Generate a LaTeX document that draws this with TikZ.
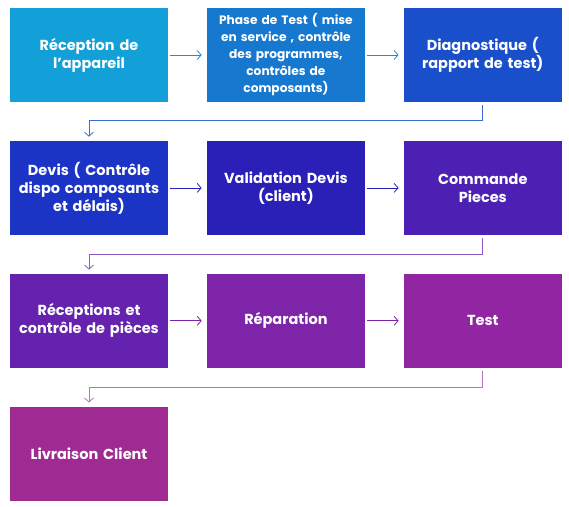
\documentclass[tikz,border=0pt]{standalone}
\usepackage{fontspec}
\setmainfont{Poppins}
\usepackage{tikz}
\usetikzlibrary{arrows.meta,positioning}

\definecolor{cA}{HTML}{139FD8}
\definecolor{cB}{HTML}{1778D0}
\definecolor{cC}{HTML}{1A4FCB}
\definecolor{cD}{HTML}{1B34C6}
\definecolor{cE}{HTML}{2A20B8}
\definecolor{cF}{HTML}{4C20B2}
\definecolor{cG}{HTML}{6522AE}
\definecolor{cH}{HTML}{7E24A8}
\definecolor{cI}{HTML}{9226A2}
\definecolor{cJ}{HTML}{9E2A92}

\tikzset{
  etape/.style={fill=#1,text=white,minimum width=158pt,minimum height=94pt,
    text width=156pt,align=center,inner sep=0pt,
    font=\fontsize{14.5}{18}\selectfont\bfseries},
  petit/.style={font=\fontsize{12.2}{17}\selectfont\bfseries},
  fleche/.style={draw=#1,line width=0.8pt,-{Straight Barb[length=4pt,width=9pt]},
    shorten <=2pt,shorten >=5pt},
  retour/.style={draw=#1,line width=0.8pt,-{Straight Barb[length=4pt,width=9pt]},
    shorten <=3pt,shorten >=4pt}
}

\begin{document}
\begin{tikzpicture}[x=1pt,y=-1pt,node distance=38.5pt and 38.5pt]
  \useasboundingbox (0,0) rectangle (569,506);
  % ligne 1
  \node[etape=cA] (recep) at (89,55) {Réception de\\l’appareil};
  \node[etape=cB,petit,right=of recep] (phase) {Phase de Test ( mise\\en service , contrôle\\des programmes,\\contrôles de\\composants)};
  \node[etape=cC,right=of phase] (diag) {Diagnostique (\\rapport de test)};
  % ligne 2
  \node[etape=cD,below=of recep] (devis) {Devis ( Contrôle\\dispo composants\\et délais)};
  \node[etape=cE,right=of devis] (valid) {Validation Devis\\(client)};
  \node[etape=cF,right=of valid] (cmd) {Commande\\Pieces};
  % ligne 3
  \node[etape=cG,below=of devis] (recpc) {Réceptions et\\contrôle de pièces};
  \node[etape=cH,right=of recpc] (repar) {Réparation};
  \node[etape=cI,right=of repar] (test) {Test};
  % ligne 4
  \node[etape=cJ,below=of recpc] (livr) {Livraison Client};

  \draw[fleche=cB!90!white] (recep) -- (phase);
  \draw[fleche=cB!90!white] (phase) -- (diag);
  \draw[fleche=cE] (devis) -- (valid);
  \draw[fleche=cE] (valid) -- (cmd);
  \draw[fleche=cH] (recpc) -- (repar);
  \draw[fleche=cH] (repar) -- (test);

  \draw[retour=cC!85!white] (diag.south) -- ++(0,18) -| (devis.north);
  \draw[retour=cG!75!white] (cmd.south) -- ++(0,19) -| (recpc.north);
  \draw[retour=cI!65!white] (test.south) -- ++(0,19) -| (livr.north);
\end{tikzpicture}
\end{document}
